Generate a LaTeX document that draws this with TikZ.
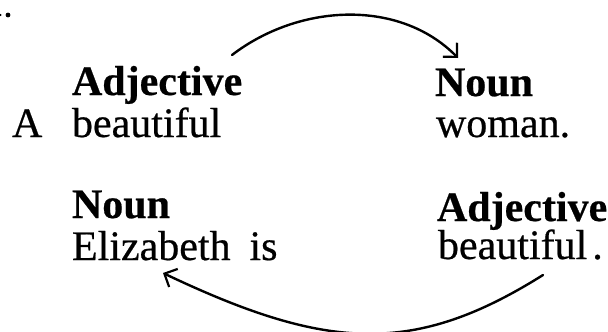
\documentclass[tikz,border=0pt]{standalone}
\usepackage{fontspec}
\setmainfont{Liberation Serif}[UprightFeatures={FakeBold=0.5},BoldFeatures={FakeBold=0.5}]
\usetikzlibrary{arrows.meta}
\begin{document}
\begin{tikzpicture}[x=1bp,y=1bp,
  word/.style={anchor=base west,inner sep=0pt,outer sep=0pt,font=\fontsize{42bp}{44bp}\selectfont},
  head/.style={word,font=\fontsize{42bp}{44bp}\selectfont\bfseries},
  cyc/.style={line width=2.4bp,line cap=round,-{Straight Barb[length=10bp,width=20bp,line width=2.2bp]}}]
\useasboundingbox (0,0) rectangle (608,331);
% dots at top-left
\fill (8,316) circle (2.4bp);
\fill (0.5,316) circle (1.2bp);
% first sentence
\node[head] (adj1) at (72,236) {Adjective};
\node[word] (a1) at (12,194) {A};
\node[word] (beau1) at (72,194) {beautiful};
\node[head] (noun1) at (435,235) {Noun};
\node[word] (woman) at (436,194) {woman.};
% second sentence
\node[head] (noun2) at (72,113) {Noun};
\node[word] (eliz) at (72,71) {Elizabeth\hspace{0.2em} is};
\node[head] (adj2) at (437,110) {Adjective};
\node[word] (beau2) at (438,72) {beautiful\hspace{0.12em}.};
% connectors
\coordinate (ts) at (232,276);
\coordinate (te) at (458,273);
\coordinate (bs) at (543,56);
\coordinate (be) at (163,58);
\draw[cyc] (ts) .. controls (300,328) and (400,332) .. (te);
\draw[cyc] (bs) .. controls (414,-25) and (327,-20) .. (be);
\end{tikzpicture}
\end{document}
